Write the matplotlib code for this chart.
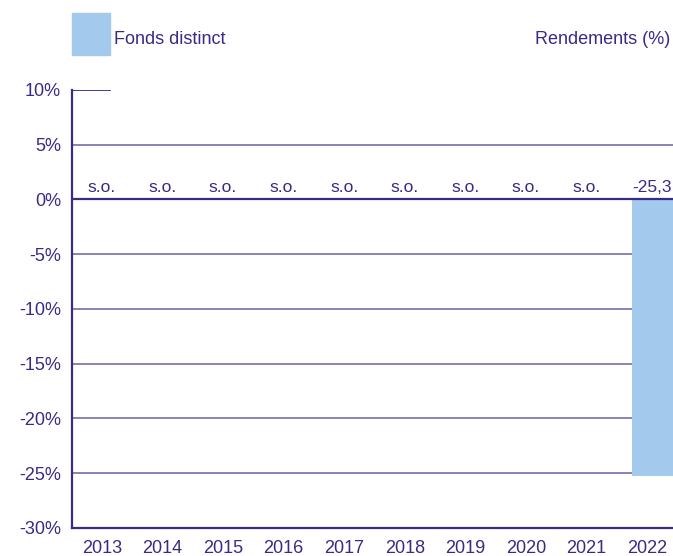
import numpy as np
import matplotlib
matplotlib.use("Agg")
import matplotlib.pyplot as plt
import matplotlib.patches as mpatches

plt.rcParams['font.family'] = ['Liberation Sans', 'DejaVu Sans']

years = ['2013', '2014', '2015', '2016', '2017', '2018', '2019', '2020', '2021', '2022']
rendements = [None, None, None, None, None, None, None, None, None, -25.3]
yticks = [10, 5, 0, -5, -10, -15, -20, -25, -30]

txt = '#3b2a85'
grid_c = '#8376b0'
bar_c = '#a3c9ec'

fig = plt.figure(figsize=(6.73, 5.56), dpi=100)
ax = fig.add_axes([0.107, 0.0504, 0.893, 0.788])

pos = np.arange(len(years))
vals = [v if v is not None else 0 for v in rendements]
ax.bar(pos + 0.09, vals, width=0.68, color=bar_c, zorder=2)

# grid lines
for t in yticks[1:-1]:
    if t == 0:
        continue
    ax.axhline(t, color=grid_c, lw=1.3, zorder=1)
ax.axhline(0, color=txt, lw=1.6, zorder=3)
ax.axhline(10, xmin=0, xmax=0.063, color=txt, lw=1.3)

# value labels
for p, v in zip(pos, rendements):
    if v is None:
        lab = 's.o.'
    else:
        lab = ('%.1f' % v).replace('.', ',')
    ax.text(p + (0.09 if v is not None else 0), 1.1, lab, ha='center', va='center',
            fontsize=12.5, color=txt)

ax.set_xlim(-0.495, 9.43)
ax.set_ylim(-30, 10)
ax.set_yticks(yticks)
ax.set_yticklabels(['%d%%' % t for t in yticks])
ax.set_xticks(pos)
ax.set_xticklabels(years)
ax.tick_params(length=0, labelsize=13, colors=txt)
ax.tick_params(axis='x', pad=8.5)
ax.tick_params(axis='y', pad=8)

for s in ['top', 'right']:
    ax.spines[s].set_visible(False)
for s in ['left', 'bottom']:
    ax.spines[s].set_color(txt)
    ax.spines[s].set_linewidth(1.6)

# legend
fig.patches.append(mpatches.Rectangle((72 / 673, 1 - 55 / 556), 38 / 673, 42 / 556,
                                      transform=fig.transFigure, color=bar_c))
fig.text(114 / 673, 1 - 39 / 556, 'Fonds distinct', ha='left', va='center',
         fontsize=13, color=txt)
fig.text(670 / 673, 1 - 39 / 556, 'Rendements (%)', ha='right', va='center',
         fontsize=13, color=txt)

fig.savefig('out.png', dpi=100)
